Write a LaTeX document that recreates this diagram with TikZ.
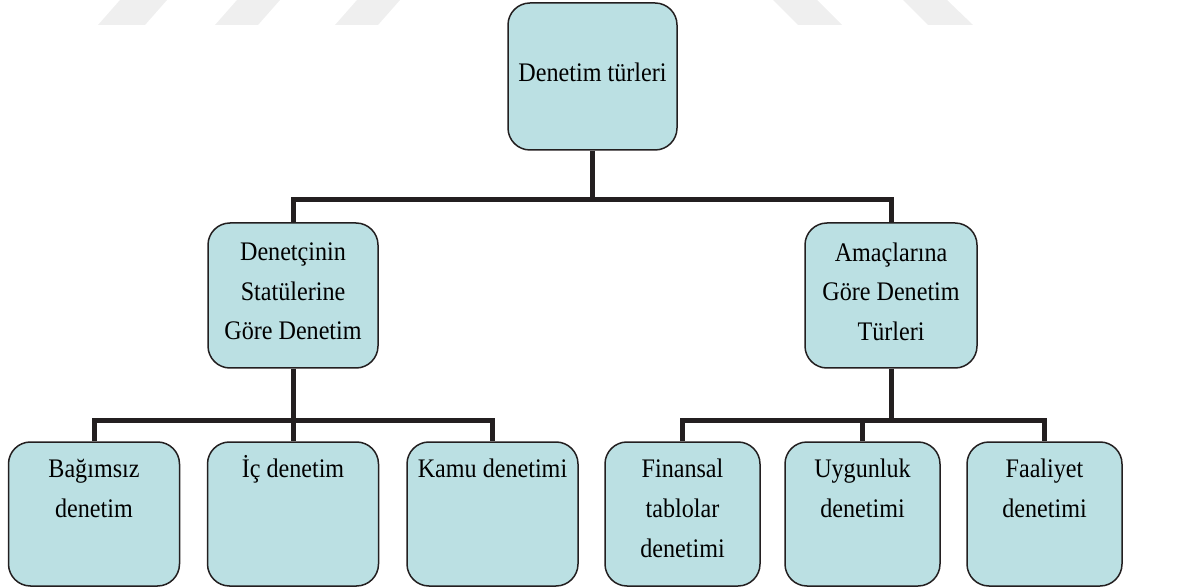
\documentclass[tikz,border=0pt]{standalone}
\usepackage{fontspec}
\setmainfont{Liberation Serif}[FakeStretch=0.9]
\usetikzlibrary{positioning}
\definecolor{boxfill}{RGB}{187,224,227}
\definecolor{boxline}{RGB}{35,31,32}
\definecolor{wmark}{RGB}{239,239,239}
\begin{document}
\begin{tikzpicture}[x=0.5pt,y=-0.5pt,
  box/.style={draw=boxline,line width=0.75pt,fill=boxfill,rounded corners=11pt,align=center,
    font=\fontsize{13.4}{19.75}\selectfont},
  wire/.style={draw=boxline,line width=2.5pt},
  lbl/.style={align=center,inner sep=0pt,font=\fontsize{13.4}{20}\selectfont}]
\useasboundingbox (0,0) rectangle (1177,587);
\fill[wmark] (98,25) -- (145,25) -- (167,0) -- (120,0) -- cycle;
\fill[wmark] (215,25) -- (258,25) -- (280,0) -- (237,0) -- cycle;
\fill[wmark] (335,25) -- (378,25) -- (400,0) -- (357,0) -- cycle;
\fill[wmark] (798,25) -- (842,25) -- (817,0) -- (773,0) -- cycle;
\fill[wmark] (928,25) -- (973,25) -- (947,0) -- (903,0) -- cycle;
\node[box,minimum width=84.5pt,minimum height=73.5pt] (top) at (592.5,76.5) {Denetim türleri\rule[-4pt]{0pt}{0pt}};
\node[box,minimum width=85pt,minimum height=72.5pt] (stat) at (293,295.5) {Denetçinin\\Statülerine\\Göre Denetim\rule[-4pt]{0pt}{0pt}};
\node[box,minimum width=86pt,minimum height=72.5pt] (amac) at (891,295.5) {Amaçlarına\\Göre Denetim\\Türleri\rule[-4pt]{0pt}{0pt}};
\node[box,minimum width=85.5pt,minimum height=72pt] (bag) at (94,514) {};
\node[box,minimum width=85.5pt,minimum height=72pt] (ic) at (293,514) {};
\node[box,minimum width=85.5pt,minimum height=72pt] (kamu) at (492.5,514) {};
\node[box,minimum width=77.5pt,minimum height=72pt] (fin) at (682.5,514) {};
\node[box,minimum width=77.5pt,minimum height=72pt] (uyg) at (862.5,514) {};
\node[box,minimum width=77.5pt,minimum height=72pt] (faal) at (1044.5,514) {};
\node[lbl,below=4pt of bag.north] (bagt) {\strut Bağımsız\\denetim};
\node[lbl,below=4pt of ic.north] (ict) {\strut İç denetim};
\node[lbl,below=4pt of kamu.north] (kamut) {\strut Kamu denetimi};
\node[lbl,below=4pt of fin.north] (fint) {\strut Finansal\\tablolar\\denetimi};
\node[lbl,below=4pt of uyg.north] (uygt) {\strut Uygunluk\\denetimi};
\node[lbl,below=4pt of faal.north] (faalt) {\strut Faaliyet\\denetimi};
\coordinate (jT) at (592.5,200);
\coordinate (jL) at (293,420);
\coordinate (jR) at (891,420);
\draw[wire] (top.south) -- (jT);
\draw[wire] (stat.north) |- (jT) -| (amac.north);
\draw[wire] (stat.south) -- (jL);
\draw[wire] (bag.north) |- (jL) -| (kamu.north);
\draw[wire] (ic.north) -- (ic.north |- jL);
\draw[wire] (amac.south) -- (jR);
\draw[wire] (fin.north) |- (jR) -| (faal.north);
\draw[wire] (uyg.north) -- (uyg.north |- jR);
\end{tikzpicture}
\end{document}
